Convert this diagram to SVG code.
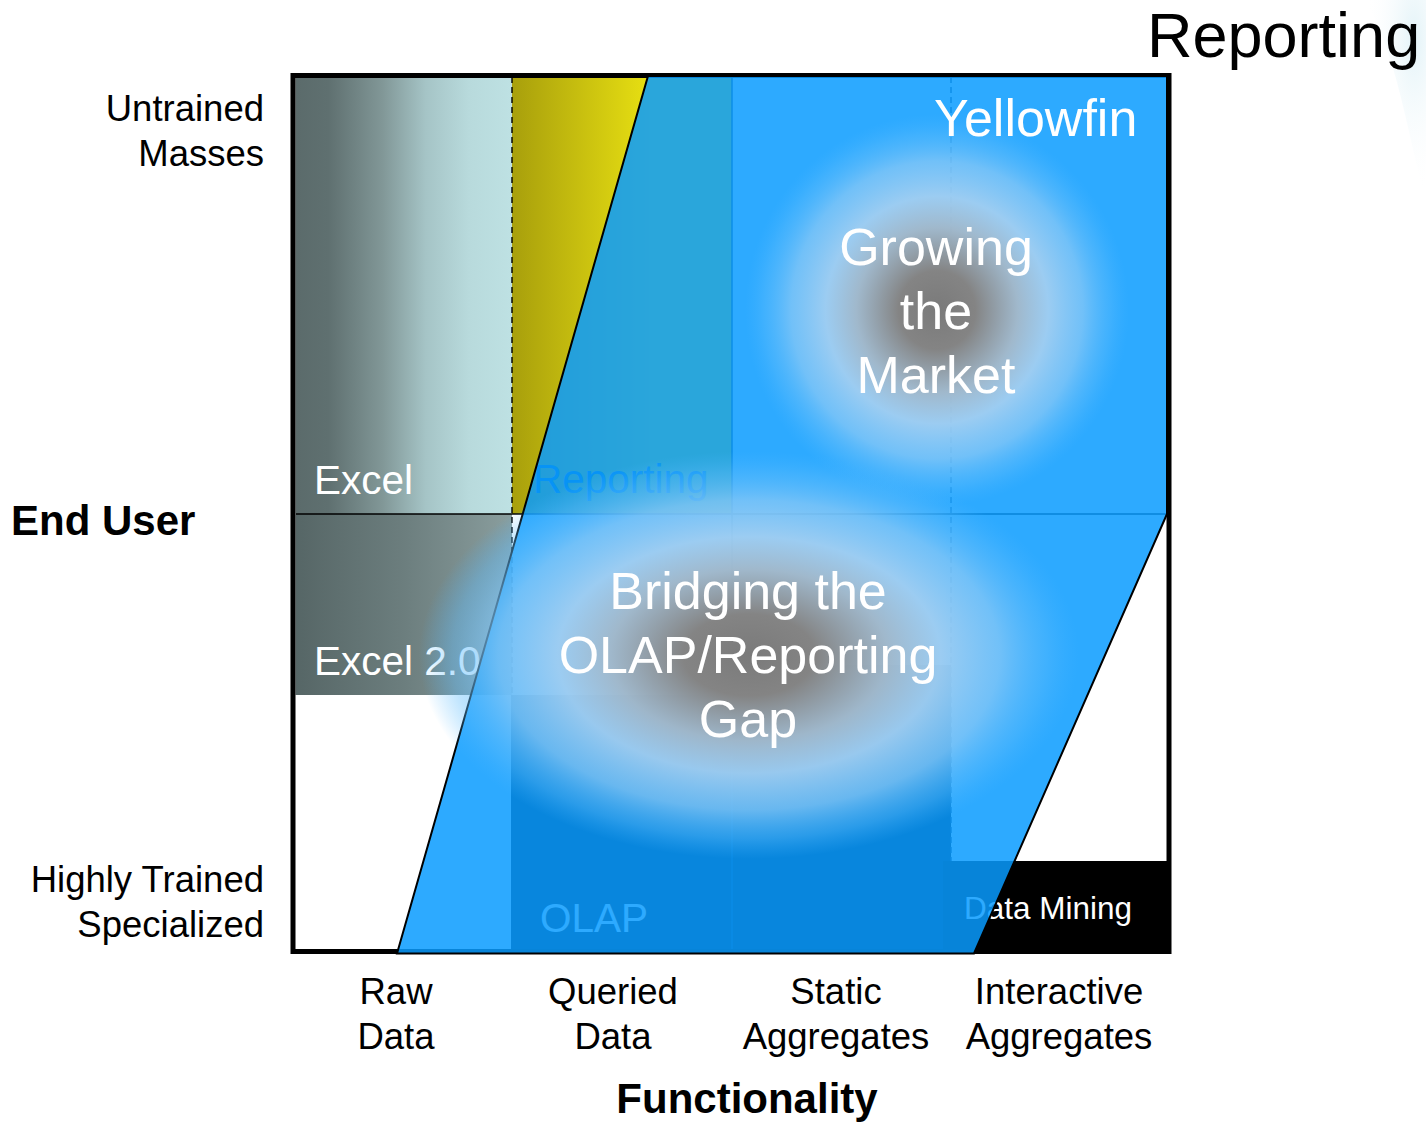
<svg xmlns="http://www.w3.org/2000/svg" width="1426" height="1123" viewBox="0 0 1426 1123">
<style>
text{font-family:"Liberation Sans",Arial,Helvetica,sans-serif}
.ax{font-size:36.5px;fill:#000}
.axb{font-size:42px;font-weight:bold;fill:#000}
.in{font-size:40.5px;fill:#fff}
.big{font-size:52px;fill:#fff;text-anchor:middle}
.mid{text-anchor:middle}
.end{text-anchor:end}
</style>
<defs>
<linearGradient id="gExcel" gradientUnits="userSpaceOnUse" x1="296" y1="0" x2="512" y2="0">
<stop offset="0" stop-color="#5b6b6b"/>
<stop offset="0.15" stop-color="#5f7070"/>
<stop offset="0.4" stop-color="#819797"/>
<stop offset="0.6" stop-color="#a5c4c6"/>
<stop offset="0.8" stop-color="#b8dadc"/>
<stop offset="1" stop-color="#bee1e3"/>
</linearGradient>
<linearGradient id="gExcel2" gradientUnits="userSpaceOnUse" x1="296" y1="0" x2="512" y2="0">
<stop offset="0" stop-color="#566666"/>
<stop offset="0.5" stop-color="#6c7e7e"/>
<stop offset="1" stop-color="#8a9e9e"/>
</linearGradient>
<linearGradient id="gYellow" gradientUnits="userSpaceOnUse" x1="512" y1="0" x2="650" y2="0">
<stop offset="0" stop-color="#a89f0c"/>
<stop offset="1" stop-color="#e8e012"/>
</linearGradient>
<radialGradient id="gGlow" cx="0.5" cy="0.5" r="0.5">
<stop offset="0" stop-color="#7a7a7a" stop-opacity="1"/>
<stop offset="0.2" stop-color="#848484" stop-opacity="1"/>
<stop offset="0.42" stop-color="#a6b9c9" stop-opacity="0.95"/>
<stop offset="0.58" stop-color="#a8d0f0" stop-opacity="0.9"/>
<stop offset="0.76" stop-color="#88c8f6" stop-opacity="0.75"/>
<stop offset="0.9" stop-color="#5ebcfc" stop-opacity="0.4"/>
<stop offset="1" stop-color="#46b4ff" stop-opacity="0"/>
</radialGradient>
<radialGradient id="gDeco" cx="0.8" cy="0.2" r="0.8">
<stop offset="0" stop-color="#dcf0f6" stop-opacity="0.8"/>
<stop offset="1" stop-color="#ffffff" stop-opacity="0"/>
</radialGradient>
</defs>

<rect width="1426" height="1123" fill="#fff"/>
<g id="decoration">
<path d="M1365,0 H1426 V200 C1408,140 1398,55 1365,0 Z" fill="url(#gDeco)"/>
</g>

<g id="excel">
<rect x="295.5" y="77" width="216.5" height="437" fill="url(#gExcel)"/>
<text class="in" x="314" y="494">Excel</text>
</g>
<g id="excel2">
<rect x="295.5" y="514" width="216.5" height="181" fill="url(#gExcel2)"/>
<text class="in" x="314" y="675">Excel 2.0</text>
</g>
<g id="reporting">
<rect x="512" y="77" width="220" height="437" fill="url(#gYellow)"/>
<text x="533" y="493" style="font-size:40.5px;fill:#0068b8">Reporting</text>
</g>
<g id="olap">
<path d="M511,695 H732 V665 H951 V951 H511 Z" fill="#0a0f1c"/>
<text class="in" x="540" y="932">OLAP</text>
</g>
<g id="datamining">
<rect x="943" y="861" width="225" height="90" fill="#000"/>
<text x="964" y="919" style="font-size:31.5px;fill:#fff">Data Mining</text>
</g>

<g id="grid" fill="none">
<line x1="296" y1="514" x2="1167" y2="514" stroke="#000" stroke-width="1.6"/>
<line x1="732" y1="77" x2="732" y2="950" stroke="#103860" stroke-width="1.4"/>
<line x1="512" y1="77" x2="512" y2="695" stroke="#000" stroke-width="1.4" stroke-dasharray="6,4"/>
<line x1="951" y1="77" x2="951" y2="861" stroke="#203a60" stroke-width="1.4" stroke-dasharray="6,4"/>
</g>

<g id="frame">
<rect x="293" y="75.5" width="876" height="876" fill="none" stroke="#000" stroke-width="5"/>
</g>

<g id="yellowfin">
<polygon points="648,76 1167,76 1167,514 974,953.5 397,953.5" fill="#089bff" fill-opacity="0.85" stroke="#000" stroke-width="2" stroke-linejoin="miter"/>
</g>

<g id="glow-growing">
<ellipse cx="937" cy="310" rx="192" ry="196" fill="url(#gGlow)"/>
</g>
<g id="glow-bridging">
<ellipse cx="749" cy="655" rx="330" ry="204" fill="url(#gGlow)"/>
</g>

<g id="yellowfin-labels">
<text x="934" y="136" style="font-size:52px;fill:#fff">Yellowfin</text>
<text class="big" x="936" y="265">Growing</text>
<text class="big" x="936" y="329">the</text>
<text class="big" x="936" y="393">Market</text>
<text class="big" x="748" y="609">Bridging the</text>
<text class="big" x="748" y="673">OLAP/Reporting</text>
<text class="big" x="748" y="737">Gap</text>
</g>

<g id="title">
<text x="1147" y="57" style="font-size:63px;fill:#000">Reporting</text>
</g>

<g id="y-axis">
<text class="ax end" x="264" y="121">Untrained</text>
<text class="ax end" x="264" y="166">Masses</text>
<text class="axb" x="11" y="535">End User</text>
<text class="ax end" x="264" y="892">Highly Trained</text>
<text class="ax end" x="264" y="937">Specialized</text>
</g>

<g id="x-axis">
<text class="ax mid" x="396" y="1004">Raw</text>
<text class="ax mid" x="396" y="1049">Data</text>
<text class="ax mid" x="613" y="1004">Queried</text>
<text class="ax mid" x="613" y="1049">Data</text>
<text class="ax mid" x="836" y="1004">Static</text>
<text class="ax mid" x="836" y="1049">Aggregates</text>
<text class="ax mid" x="1059" y="1004">Interactive</text>
<text class="ax mid" x="1059" y="1049">Aggregates</text>
<text class="axb mid" x="747" y="1113">Functionality</text>
</g>
</svg>
